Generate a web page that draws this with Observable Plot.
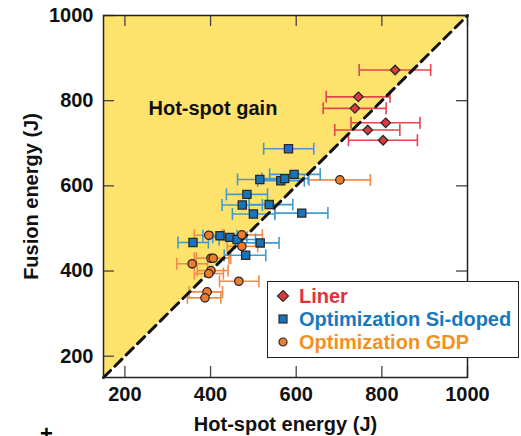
<!DOCTYPE html>
<html>
<head>
<meta charset="utf-8">
<script src="https://cdn.jsdelivr.net/npm/d3@7"></script>
<script src="https://cdn.jsdelivr.net/npm/@observablehq/plot@0.6"></script>
<style>
  html, body { margin: 0; padding: 0; background: #fff; }
  #wrap { position: relative; width: 521px; height: 436px; overflow: hidden; font-family: "Liberation Sans", Arial, sans-serif; }
  #legend { position: absolute; left: 267px; top: 281px; width: 250px; height: 75px; border: 1.5px solid #222; background: #fff; font-weight: bold; font-size: 20px; }
  .row { position: absolute; left: 8px; height: 22px; display: flex; align-items: center; white-space: nowrap; }
  .row svg { margin-right: 9px; }
  #dag { position: absolute; left: 40px; top: 421px; font: bold 22px "Liberation Sans", Arial, sans-serif; }
</style>
</head>
<body>
<div id="wrap"></div>
<script>
// ---- data ----
const domainX = [150, 1000];
const domainY = [150, 1000];
const xTicks = [200, 400, 600, 800, 1000];
const yTicks = [200, 400, 600, 800, 1000];

const linerX  = [831, 745, 737, 809, 767, 803];
const linerY  = [872, 809, 782, 748, 731, 707];
const linerLo = [747, 670, 663, 728, 690, 722];
const linerHi = [914, 819, 810, 889, 842, 883];

const siX  = [582, 515, 564, 573, 595, 485, 474, 537, 500, 613, 359, 422, 445, 462, 516, 482];
const siY  = [687, 615, 612, 617, 627, 580, 555, 556, 534, 536, 467, 483, 479, 474, 466, 437];
const siLo = [524, 463, 510, 520, 538, 437, 427, 490, 451, 550, 324, 382, 405, 420, 458, 432];
const siHi = [641, 567, 619, 628, 656, 533, 521, 592, 550, 674, 395, 462, 485, 505, 560, 529];

const gdpX  = [702, 396, 473, 473, 401, 406, 357, 401, 396, 466, 392, 387];
const gdpY  = [614, 484, 485, 458, 430, 430, 417, 401, 394, 376, 351, 337];
const gdpLo = [630, 362, 428, 439, 362, 367, 321, 369, 362, 421, 350, 346];
const gdpHi = [773, 432, 521, 510, 443, 447, 393, 441, 430, 513, 428, 424];

const seriesNames = ["Liner", "Optimization Si-doped", "Optimization GDP"];
const regionLabel = ["Hot-spot gain"];
const xTitle = "Hot-spot energy (J)";
const yTitle = "Fusion energy (J)";

// ---- build tables ----
function rows(xs, ys, los, his) {
  return xs.map((x, i) => ({x, y: ys[i], lo: los[i], hi: his[i]}));
}
const liner = rows(linerX, linerY, linerLo, linerHi);
const si = rows(siX, siY, siLo, siHi);
const gdp = rows(gdpX, gdpY, gdpLo, gdpHi);

const diag = domainX.map(v => ({v}));
const yMax = domainY[1];

const cap = { draw(ctx, size) { const r = Math.sqrt(size / Math.PI); ctx.moveTo(0, -r); ctx.lineTo(0, r); } };

const colors = {
  linerBar: "#e2474f", linerFill: "#dc3a3c", linerText: "#e0323c",
  siBar: "#3f9bd2", siFill: "#1a74bb", siText: "#1878c0",
  gdpBar: "#f28a4c", gdpFill: "#ef7b2c", gdpText: "#f5901f"
};

function errorMarks(data, color) {
  return [
    Plot.link(data, {x1: "lo", x2: "hi", y1: "y", y2: "y", stroke: color, strokeWidth: 1.6}),
    Plot.dot(data, {x: "lo", y: "y", symbol: cap, r: 6, stroke: color, fill: "none", strokeWidth: 1.6}),
    Plot.dot(data, {x: "hi", y: "y", symbol: cap, r: 6, stroke: color, fill: "none", strokeWidth: 1.6})
  ];
}

const W = 521, H = 436, ML = 103, MR = 54, MT = 15, MB = 59;
const plotW = W - ML - MR, plotH = H - MT - MB;
const tickLen = 11;

const chart = Plot.plot({
  width: W, height: H,
  marginLeft: ML, marginRight: MR, marginTop: MT, marginBottom: MB,
  x: {domain: domainX, ticks: xTicks, tickSize: 0, tickPadding: 9, tickFormat: d => String(d),
      label: xTitle, labelAnchor: "center", labelOffset: 53, labelArrow: "none"},
  y: {domain: domainY, ticks: yTicks, tickSize: 0, tickPadding: 10, tickFormat: d => String(d),
      label: yTitle, labelAnchor: "center", labelOffset: 80, labelArrow: "none"},
  style: {fontFamily: "'Liberation Sans', Arial, sans-serif", fontSize: "20px", fontWeight: "bold", color: "#111", background: "#fff"},
  marks: [
    Plot.areaY(diag, {x: "v", y1: "v", y2: () => yMax, fill: "#fde36c"}),
    Plot.text(regionLabel, {frameAnchor: "top-left", textAnchor: "start", dx: 45, dy: 85, fontSize: 20, fontWeight: "bold", fill: "#111"}),
    ...errorMarks(gdp, colors.gdpBar),
    ...errorMarks(si, colors.siBar),
    ...errorMarks(liner, colors.linerBar),
    Plot.line(diag, {x: "v", y: "v", stroke: "#111", strokeWidth: 3, strokeDasharray: "10,6"}),
    Plot.dot(liner, {x: "x", y: "y", symbol: "diamond2", r: 4.3, fill: colors.linerFill, stroke: "#2a2a2a", strokeWidth: 1.3}),
    Plot.dot(si, {x: "x", y: "y", symbol: "square", r: 4.6, fill: colors.siFill, stroke: "#2a2a2a", strokeWidth: 1.3}),
    Plot.dot(gdp, {x: "x", y: "y", symbol: "circle", r: 4.2, fill: colors.gdpFill, stroke: "#2a2a2a", strokeWidth: 1.3}),
    // inward ticks on all four sides
    Plot.ruleX(xTicks, {x: d => d, insetTop: plotH - tickLen, stroke: "#444", strokeWidth: 1.3}),
    Plot.ruleX(xTicks, {x: d => d, insetBottom: plotH - tickLen, stroke: "#444", strokeWidth: 1.3}),
    Plot.ruleY(yTicks, {y: d => d, insetRight: plotW - tickLen, stroke: "#444", strokeWidth: 1.3}),
    Plot.ruleY(yTicks, {y: d => d, insetLeft: plotW - tickLen, stroke: "#444", strokeWidth: 1.3}),
    Plot.frame({stroke: "#222", strokeWidth: 1.5})
  ]
});

const wrap = document.getElementById("wrap");
wrap.appendChild(chart);

// legend
const legend = document.createElement("div");
legend.id = "legend";
const legendItems = [
  {name: seriesNames[0], color: colors.linerText, fill: colors.linerFill, shape: "diamond"},
  {name: seriesNames[1], color: colors.siText, fill: colors.siFill, shape: "square"},
  {name: seriesNames[2], color: colors.gdpText, fill: colors.gdpFill, shape: "circle"}
];
legendItems.forEach((it, i) => {
  const row = document.createElement("div");
  row.className = "row";
  row.style.top = (3 + i * 23) + "px";
  const ns = "http://www.w3.org/2000/svg";
  const s = document.createElementNS(ns, "svg");
  s.setAttribute("width", 14); s.setAttribute("height", 14);
  let el;
  if (it.shape === "diamond") {
    el = document.createElementNS(ns, "path");
    el.setAttribute("d", "M7,1.5L12.5,7L7,12.5L1.5,7Z");
  } else if (it.shape === "square") {
    el = document.createElementNS(ns, "rect");
    el.setAttribute("x", 3); el.setAttribute("y", 3); el.setAttribute("width", 8); el.setAttribute("height", 8);
  } else {
    el = document.createElementNS(ns, "circle");
    el.setAttribute("cx", 7); el.setAttribute("cy", 7); el.setAttribute("r", 4);
  }
  el.setAttribute("fill", it.fill); el.setAttribute("stroke", "#2a2a2a"); el.setAttribute("stroke-width", 1.2);
  s.appendChild(el);
  row.appendChild(s);
  const t = document.createElement("span");
  t.textContent = it.name;
  t.style.color = it.color;
  row.appendChild(t);
  legend.appendChild(row);
});
wrap.appendChild(legend);

const dag = document.createElement("div");
dag.id = "dag";
dag.textContent = "+";
wrap.appendChild(dag);
</script>
</body>
</html>
